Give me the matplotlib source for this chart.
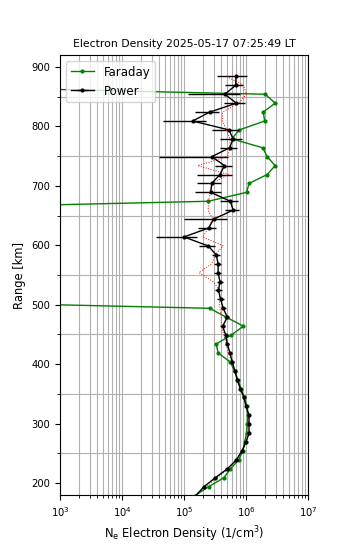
import numpy as np
import matplotlib
matplotlib.use("Agg")
import matplotlib.pyplot as plt
from matplotlib.ticker import MultipleLocator, LogLocator, NullFormatter

# Range gates [km]
ranges = [884, 869, 854, 839, 824, 809, 794, 779, 764, 749, 734, 719, 704, 689,
          674, 659, 644, 629, 614, 599, 584, 569, 554, 539, 524, 509, 494, 479,
          464, 449, 434, 419, 404, 389, 374, 359, 344, 329, 314, 299, 284, 269,
          254, 239, 224, 209, 194, 179]

# Power profile electron density [1/cm^3] and its 1-sigma error
power = [6.9e5, 6.8e5, 4.55e5, 7.0e5, 2.6e5, 1.38e5, 5.3e5, 6.2e5, 5.45e5, 2.8e5,
         4.5e5, 3.8e5, 2.8e5, 2.7e5, 5.6e5, 6.2e5, 3.0e5, 2.5e5, 1.0e5, 2.45e5,
         3.3e5, 3.55e5, 3.55e5, 3.8e5, 3.6e5, 3.9e5, 4.3e5, 5.0e5, 4.2e5, 4.7e5,
         5.0e5, 5.5e5, 6.0e5, 6.6e5, 7.2e5, 8.1e5, 9.3e5, 1.0e6, 1.12e6, 1.12e6,
         1.12e6, 1.0e6, 8.6e5, 7.0e5, 5.0e5, 3.2e5, 2.1e5, 1.55e5]
power_err = [3.5e5, 2.2e5, 3.4e5, 2.5e5, 1.1e5, 0.92e5, 2.5e5, 2.4e5, 1.6e5, 2.4e5,
             1.35e5, 2.2e5, 1.15e5, 1.2e5, 1.75e5, 1.65e5, 2.0e5, 0.8e5, 0.65e5, 0.73e5,
             4.5e4, 4.5e4, 4.5e4, 4.5e4, 4.5e4, 4.5e4, 4.0e4, 4.0e4, 3.5e4, 3.5e4,
             3.5e4, 3.5e4, 3.5e4, 4.0e4, 4.0e4, 4.0e4, 4.5e4, 4.5e4, 5.0e4, 5.0e4,
             5.0e4, 5.0e4, 4.0e4, 3.5e4, 2.5e4, 1.5e4, 1.0e4, 1.0e4]

# Faraday rotation electron density [1/cm^3]
faraday = [1.0, 1.1, 2.05e6, 2.95e6, 1.9e6, 2.0e6, 7.8e5, 5.9e5, 1.86e6, 2.2e6,
           2.95e6, 2.2e6, 1.12e6, 1.02e6, 2.45e5, 0.15, 0.2, 0.1, 0.3, 0.2,
           0.15, 0.2, 0.3, 0.2, 0.1, 0.15, 2.6e5, 4.8e5, 9.1e5, 5.8e5,
           3.3e5, 3.55e5, 5.5e5, 6.6e5, 7.4e5, 8.3e5, 9.3e5, 1.05e6, 1.07e6, 1.05e6,
           1.02e6, 9.5e5, 8.9e5, 7.6e5, 5.6e5, 4.4e5, 2.5e5, 1.5e5]

# Model / fit profile (red dotted)
model = [4.9e5, 9.1e5, 1.02e6, 7.6e5, 4.2e5, 4.2e5, 4.8e5, 5.5e5, 5.5e5, 5.0e5,
         1.66e5, 5.2e5, 2.9e5, 2.6e5, 2.5e5, 2.45e5, 2.9e5, 2.5e5, 2.0e5, 4.3e5,
         3.2e5, 2.8e5, 1.74e5, 2.95e5, 3.8e5, 3.7e5, 3.8e5, 4.0e5, 4.0e5, 4.4e5,
         4.8e5, 5.2e5, 5.9e5, 6.5e5, 7.2e5, 8.1e5, 9.1e5, 1.0e6, 1.07e6, 1.1e6,
         1.07e6, 1.0e6, 8.5e5, 6.9e5, 5.2e5, 3.4e5, 2.25e5, 1.5e5]

title = "Electron Density 2025-05-17 07:25:49 LT"

fig = plt.figure(figsize=(3.5, 5.5), dpi=100)
ax = fig.add_axes([0.1714, 0.1, 0.7086, 0.8])

ax.plot(faraday, ranges, color='green', marker='.', ms=4, lw=1.0, label='Faraday')
ax.errorbar(power, ranges, xerr=power_err, color='black', marker='.', ms=4,
            lw=1.0, elinewidth=1.0, capsize=0, label='Power')
ax.plot(model, ranges, color='red', ls=':', lw=0.7)

ax.set_xscale('log')
ax.set_xlim(1e3, 1e7)
ax.set_ylim(180, 920)
ax.yaxis.set_major_locator(MultipleLocator(100))
ax.yaxis.set_minor_locator(MultipleLocator(50))
ax.xaxis.set_major_locator(LogLocator(base=10, numticks=10))
ax.xaxis.set_minor_locator(LogLocator(base=10, subs=np.arange(2, 10), numticks=20))
ax.xaxis.set_minor_formatter(NullFormatter())

ax.grid(True, which='both', axis='x', color='#b0b0b0', lw=0.8)
ax.grid(True, which='minor', axis='y', color='#b0b0b0', lw=0.8)
ax.set_axisbelow(True)

ax.tick_params(labelsize=7.2)
ax.set_xlabel(r'N$_\mathrm{e}$ Electron Density (1/cm$^3$)', fontsize=8.3)
ax.set_ylabel('Range [km]', fontsize=8.3)
ax.set_title(title, fontsize=7.8)
ax.legend(loc='upper left', fontsize=8.5)

fig.savefig('out.png', dpi=100)
